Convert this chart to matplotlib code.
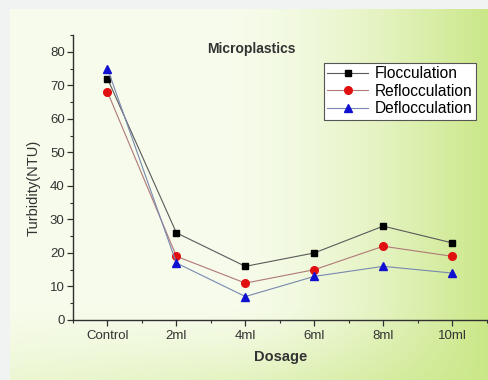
import numpy as np
import matplotlib
matplotlib.use("Agg")
import matplotlib.pyplot as plt
from matplotlib.ticker import MultipleLocator

plt.rcParams['font.family'] = ['Liberation Sans', 'DejaVu Sans']

categories = ["Control", "2ml", "4ml", "6ml", "8ml", "10ml"]
flocculation = [72, 26, 16, 20, 28, 23]
reflocculation = [68, 19, 11, 15, 22, 19]
deflocculation = [75, 17, 7, 13, 16, 14]

W, H = 488, 380
fig = plt.figure(figsize=(W / 100, H / 100), dpi=100)
fig.patch.set_facecolor('#f1f2f2')

# soft white-to-green panel behind the chart
bg = fig.add_axes([10 / W, 0, 1 - 10 / W, 1 - 9 / H])
bg.set_axis_off()
nx, ny = 240, 190
xx, yy = np.meshgrid(np.linspace(0, 1, nx), np.linspace(0, 1, ny))  # yy=0 top
t_right = np.clip((xx - 0.45) / 0.55, 0, 1) ** 1.6
t_bottom = np.clip((yy - 0.8) / 0.2, 0, 1) ** 1.3 * (0.35 + 0.5 * xx)
t = np.clip(0.08 + 0.85 * t_right + 0.6 * t_bottom * (1 - t_right), 0, 1)
c0 = np.array([0.985, 0.995, 0.96])
c1 = np.array([0.78, 0.90, 0.50])
img = c0[None, None, :] * (1 - t[..., None]) + c1[None, None, :] * t[..., None]
bg.imshow(img, aspect='auto', extent=[0, 1, 0, 1], origin='upper')
bg.set_xlim(0, 1)
bg.set_ylim(0, 1)

ax = fig.add_axes([73 / W, 60 / H, 1 - 73 / W, 285 / H])
ax.patch.set_alpha(0)
x = np.arange(len(categories))

ax.plot(x, flocculation, color='#5a5a5a', lw=0.8, marker='s', ms=5,
        mfc='black', mec='black', label='Flocculation')
ax.plot(x, reflocculation, color='#b07878', lw=0.8, marker='o', ms=5.5,
        mfc='#e01010', mec='#e01010', label='Reflocculation')
ax.plot(x, deflocculation, color='#7888b0', lw=0.8, marker='^', ms=6,
        mfc='#1010d0', mec='#1010d0', label='Deflocculation')

ax.set_xlim(-0.5, 5.52)
ax.set_ylim(0, 85)
ax.set_xticks(x)
ax.set_xticklabels(categories)
ax.xaxis.set_minor_locator(MultipleLocator(0.5))
ax.yaxis.set_major_locator(MultipleLocator(10))
ax.yaxis.set_minor_locator(MultipleLocator(5))
for s in ['top', 'right']:
    ax.spines[s].set_visible(False)
for s in ['left', 'bottom']:
    ax.spines[s].set_color('#303030')
    ax.spines[s].set_linewidth(1.0)
ax.tick_params(which='major', direction='out', length=4, width=0.9,
               colors='#303030', labelsize=9.5, labelcolor='#333333')
ax.tick_params(which='minor', direction='out', length=2.5, width=0.8,
               colors='#303030')
ax.tick_params(axis='x', which='both', pad=3)
ax.tick_params(axis='y', which='both', pad=2)

ax.set_xlabel('Dosage', fontsize=10.5, fontweight='bold', color='#333333', labelpad=6)
ax.set_ylabel('Turbidity(NTU)', fontsize=10.5, color='#333333')
ax.yaxis.set_label_coords(-0.078, 0.463)
ax.text(0.431, 0.951, 'Microplastics', transform=ax.transAxes,
        fontsize=10, fontweight='bold', color='#333333', ha='center', va='center')

leg = ax.legend(loc='upper left', bbox_to_anchor=((324 - 73) / (W - 73), (H - 63 - 60) / 285),
                fontsize=11.2, frameon=True, fancybox=False, handlelength=2.6,
                handletextpad=0.45, labelspacing=0.15, borderpad=0.22,
                borderaxespad=0)
leg.get_frame().set_edgecolor('#555555')
leg.get_frame().set_linewidth(0.8)
leg.get_frame().set_facecolor('white')
leg.get_frame().set_alpha(1)

fig.savefig('out.png', dpi=100, facecolor=fig.get_facecolor())
